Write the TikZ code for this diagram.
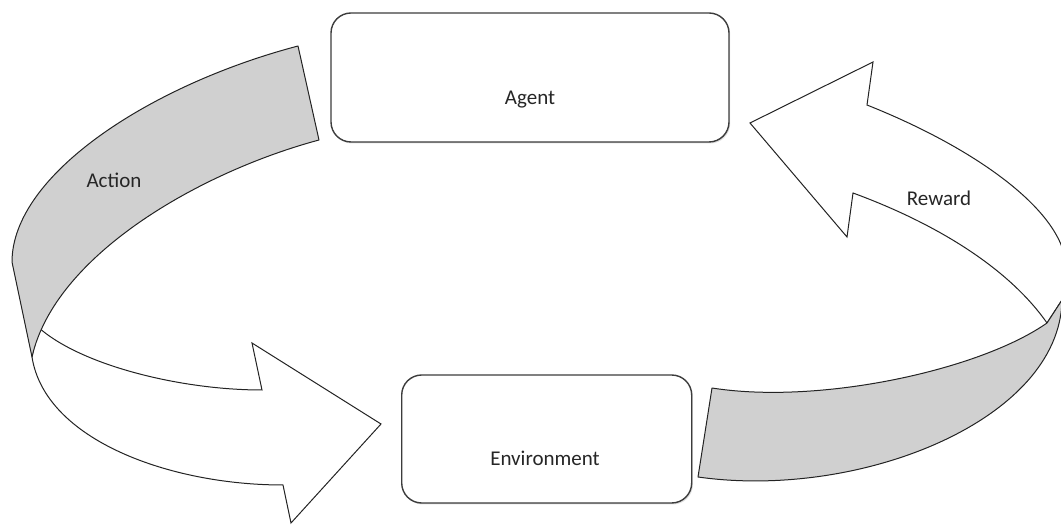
\documentclass[tikz,border=0pt]{standalone}
\usepackage{fontspec}
\setmainfont{Carlito}
\usetikzlibrary{shadows}
\definecolor{bandgray}{RGB}{208,208,208}
\definecolor{edge}{RGB}{35,35,35}
\definecolor{boxedge}{RGB}{60,60,60}
\tikzset{
  box/.style={draw=boxedge, line width=1.4pt, rounded corners=20pt, fill=white,
    inner sep=0pt, drop shadow={shadow xshift=1.2pt, shadow yshift=-1.5pt, fill=black!25}},
  lbl/.style={anchor=base, inner sep=0pt, font=\fontsize{21}{25}\selectfont, text=black!85},
  backband/.style={draw=edge, line width=1pt, fill=bandgray, line join=round},
  frontband/.style={draw=edge, line width=1pt, fill=white, line join=miter}
}
\begin{document}
\begin{tikzpicture}[x=1pt,y=-1pt]
\useasboundingbox (0,0) rectangle (1061,526);
\begin{scope}
\clip (0,0) rectangle (1061,526);
% Action arrow
\path[frontband] (38,327) .. controls (80,365) and (180,390) .. (262,390)
  -- (252,343) -- (381,424) -- (291,523) -- (283,485)
  .. controls (170,485) and (45,440) .. (32,357) -- cycle;
\path[backband] (298,46) .. controls (150,85) and (12,175) .. (12,262) -- (32,357)
  .. controls (55,255) and (200,172) .. (319,140) -- cycle;
% Reward arrow
\path[frontband] (750,123) -- (873,62) -- (867,105)
  .. controls (980,150) and (1068,215) .. (1066,270) -- (1062,300) -- (1047,323)
  .. controls (1010,270) and (940,225) .. (853,193) -- (847,237) -- cycle;
\path[backband] (712,388) .. controls (820,405) and (980,370) .. (1047,323) -- (1062,300)
  .. controls (1060,420) and (860,500) .. (698,477) -- cycle;
\end{scope}
% Boxes
\node[box, minimum width=398pt, minimum height=129pt] (agent) at (530,77.5) {};
\node[lbl] (agenttext) at (530,105) {Agent};
\node[box, minimum width=290pt, minimum height=128pt] (env) at (546.7,439) {};
\node[lbl] (envtext) at (545,466) {Environment};
% Arrow labels
\node[lbl] (action) at (114,188) {Action};
\node[lbl] (reward) at (939,206) {Reward};
\end{tikzpicture}
\end{document}
